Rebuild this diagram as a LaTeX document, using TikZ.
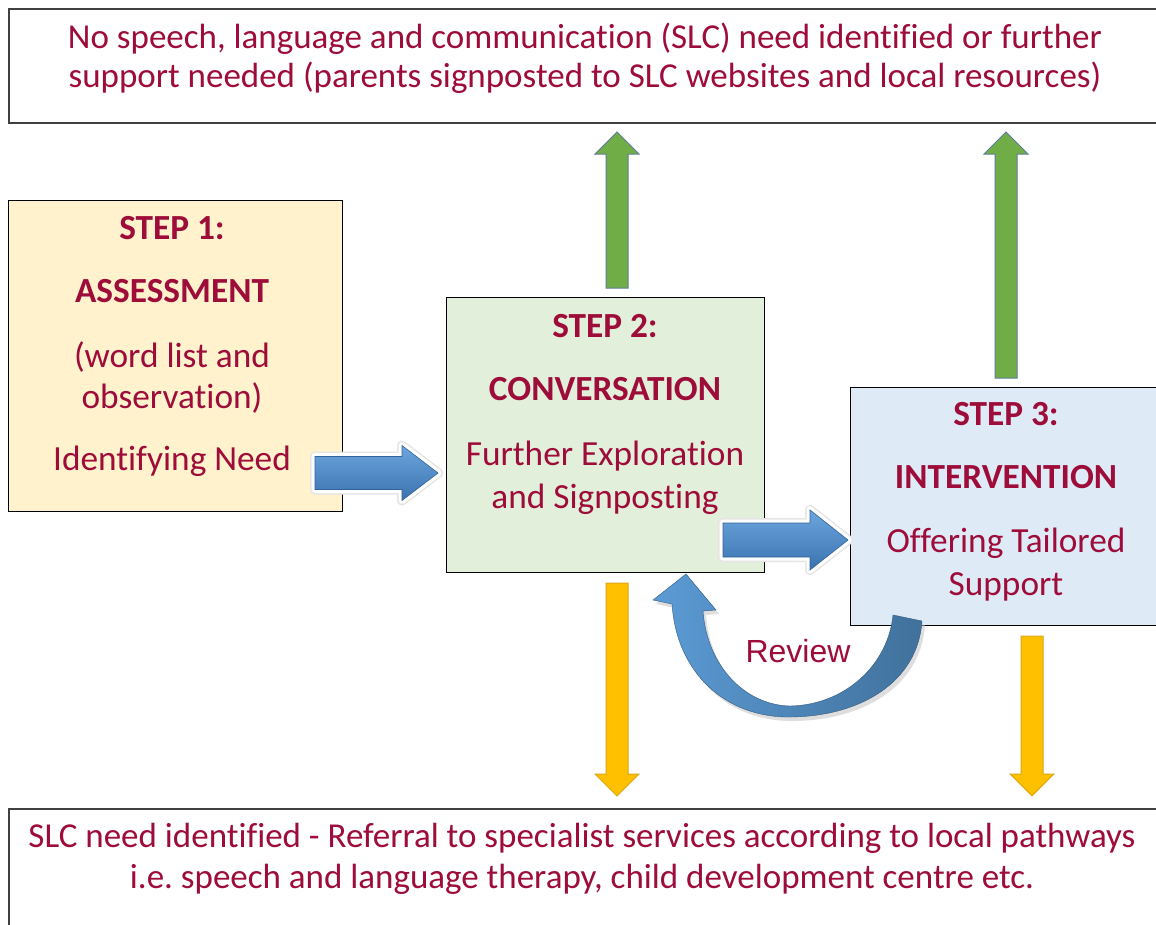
\documentclass[tikz,border=0pt]{standalone}
\usepackage{fontspec}
\setmainfont{Carlito}[Ligatures=NoCommon]
\newfontfamily\arialf{Liberation Sans}
\usetikzlibrary{calc}
\frenchspacing
\definecolor{slc}{RGB}{158,12,58}
\definecolor{yel}{HTML}{FFF2CC}
\definecolor{grn}{HTML}{E2EFDA}
\definecolor{blu}{HTML}{DEEBF7}
\definecolor{garr}{HTML}{70AD47}
\definecolor{gedge}{RGB}{95,125,155}
\definecolor{yarr}{HTML}{FFC000}
\definecolor{yedge}{RGB}{220,165,20}
\definecolor{barrL}{HTML}{6DA6DE}
\definecolor{barrD}{HTML}{3A72AE}
\definecolor{bedge}{RGB}{50,100,155}
\definecolor{revL}{HTML}{5B9BD5}
\definecolor{revD}{HTML}{41719C}
\tikzset{
  box/.style={draw=black, line width=1.2pt, inner sep=0pt, anchor=north west},
  wide/.style={draw=black!75, line width=2pt, inner sep=0pt, anchor=north west},
  big/.style={text=slc, font=\fontsize{35}{40}\selectfont, anchor=base, inner sep=0pt},
  steptxt/.style={text=slc, font=\fontsize{35.3}{40}\selectfont, anchor=base, inner sep=0pt},
  stepbold/.style={text=slc, font=\fontsize{35.3}{40}\selectfont\bfseries, anchor=base, inner sep=0pt},
  garrow/.style={fill=garr, draw=gedge, line width=1pt},
  yarrow/.style={fill=yarr, draw=yedge, line width=1pt},
  bglow/.style={draw=black!10, line width=10pt, line join=round},
  bwhite/.style={draw=white, line width=7pt, line join=round},
  bfill/.style={top color=barrL, bottom color=barrD, draw=bedge, line width=0.6pt},
}
% vertical block arrow: #1 style, #2 x, #3 y start, #4 y tip
\newcommand\varr[4]{%
  \pgfmathsetmacro\dir{(#4>#3)?1:-1}%
  \path[#1] (#2-11,#3) -- (#2-11,#4-\dir*22) -- (#2-22,#4-\dir*22) -- (#2,#4)
     -- (#2+22,#4-\dir*22) -- (#2+11,#4-\dir*22) -- (#2+11,#3) -- cycle;}
% horizontal block arrow: #1 style, #2 x start, #3 y centre, #4 x tip, #5 shaft half, #6 head half, #7 head length
\newcommand\harr[7]{%
  \path[#1] (#2,#3-#5) -- (#4-#7,#3-#5) -- (#4-#7,#3-#6) -- (#4,#3)
     -- (#4-#7,#3+#6) -- (#4-#7,#3+#5) -- (#2,#3+#5) -- cycle;}
\newcommand\reviewarrow[1]{%
  \path[#1] (922,621) .. controls (918,682) and (860,718) .. (785,717)
     .. controls (720,715) and (676,668) .. (672,604) -- (653,600) -- (686,574) -- (716,610) -- (703,611)
     .. controls (707,666) and (745,705) .. (790,706)
     .. controls (845,705) and (888,665) .. (893,615) -- cycle;}
\begin{document}
\begin{tikzpicture}[x=1pt,y=-1pt]
\clip (0,0) rectangle (1156,924);
\fill[white] (0,0) rectangle (1156,924);

% boxes
\node[wide, minimum width=1170pt, minimum height=114pt] (top) at (8,8) {};
\node[wide, minimum width=1170pt, minimum height=140pt] (bot) at (8,808) {};
\node[box, fill=yel, minimum width=334pt, minimum height=311pt] (s1) at (8,200) {};
\node[box, fill=grn, minimum width=318pt, minimum height=275pt] (s2) at (446,297) {};
\node[box, fill=blu, minimum width=330pt, minimum height=238pt] (s3) at (850,387) {};

% top / bottom texts
\node[big] (topa) at (585,48) {No speech, language and communication (SLC) need identified or further};
\node[big] (topb) at (585,87) {support needed (parents signposted to SLC websites and local resources)};
\node[big] (bota) at (582,847) {SLC need identified - Referral to specialist services according to local pathways};
\node[big] (botb) at (582,888) {i.e. speech and language therapy, child development centre etc.};

% step 1
\node[stepbold] (s1a) at (172,239) {STEP 1:};
\node[stepbold] (s1b) at (172,302) {ASSESSMENT};
\node[steptxt] (s1c) at (172,367) {(word list and};
\node[steptxt] (s1d) at (172,408) {observation)};
\node[steptxt] (s1e) at (172,470) {Identifying Need};
% step 2
\node[stepbold] (s2a) at (605,337) {STEP 2:};
\node[stepbold] (s2b) at (605,400) {CONVERSATION};
\node[steptxt] (s2c) at (605,465) {Further Exploration};
\node[steptxt] (s2d) at (605,508) {and Signposting};
% step 3
\node[stepbold] (s3a) at (1006,425) {STEP 3:};
\node[stepbold] (s3b) at (1006,488) {INTERVENTION};
\node[steptxt] (s3c) at (1006,552) {Offering Tailored};
\node[steptxt] (s3d) at (1006,595) {Support};

% green up arrows
\varr{garrow}{617}{288}{132}
\varr{garrow}{1006}{378}{132}
% yellow down arrows
\varr{yarrow}{617}{583}{796}
\varr{yarrow}{1032}{636}{796}

% blue block arrows
\harr{bglow}{315}{473}{438}{16.5}{27.5}{36}
\harr{bwhite}{315}{473}{438}{16.5}{27.5}{36}
\harr{bfill}{315}{473}{438}{16.5}{27.5}{36}
\harr{bglow}{723}{540}{848}{17}{30}{38}
\harr{bwhite}{723}{540}{848}{17}{30}{38}
\harr{bfill}{723}{540}{848}{17}{30}{38}

% review arrow
\reviewarrow{fill=black!25, opacity=0.5, shift={(3,4)}}
\reviewarrow{left color=revL, right color=revD, draw=revD!80!black, line width=0.4pt}
\node[text=slc, font=\arialf\fontsize{32}{38}\selectfont, anchor=base, inner sep=0pt] (rev) at (798,662) {Review};
\end{tikzpicture}
\end{document}
